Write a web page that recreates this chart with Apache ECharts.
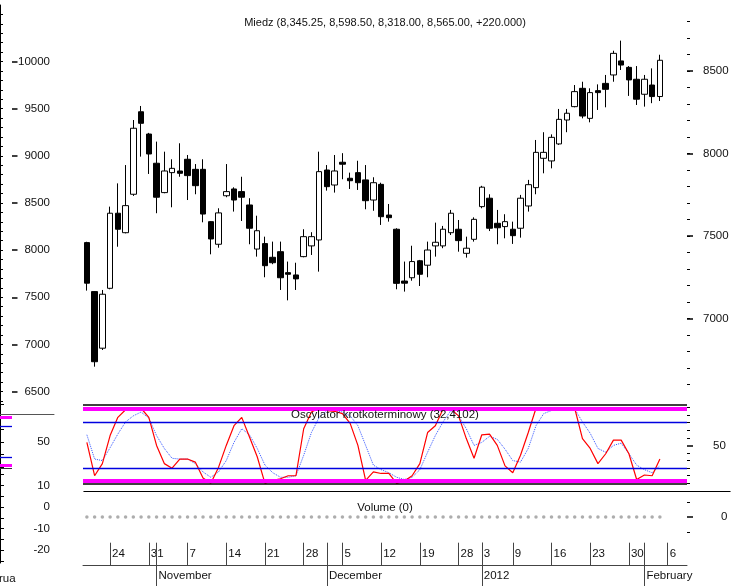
<!DOCTYPE html>
<html>
<head>
    <meta charset="utf-8">
    <title>Miedz</title>
    <script src="https://cdn.jsdelivr.net/npm/echarts@6/dist/echarts.min.js"></script>
</head>
<body style="margin:0">
<div id="main" style="width:740px;height:586px;"></div>
<script type="text/javascript">
    // trading days (last three are empty slots at the right edge)
    var dates = [
        '2011-10-19', '2011-10-20', '2011-10-21', '2011-10-24', '2011-10-25', '2011-10-26', '2011-10-27', '2011-10-28', '2011-10-31',
        '2011-11-01', '2011-11-02', '2011-11-03', '2011-11-04', '2011-11-07', '2011-11-08', '2011-11-09', '2011-11-10', '2011-11-11',
        '2011-11-14', '2011-11-15', '2011-11-16', '2011-11-17', '2011-11-18', '2011-11-21', '2011-11-22', '2011-11-23', '2011-11-24',
        '2011-11-25', '2011-11-28', '2011-11-29', '2011-11-30',
        '2011-12-01', '2011-12-02', '2011-12-05', '2011-12-06', '2011-12-07', '2011-12-08', '2011-12-09', '2011-12-12', '2011-12-13',
        '2011-12-14', '2011-12-15', '2011-12-16', '2011-12-19', '2011-12-20', '2011-12-21', '2011-12-22', '2011-12-23', '2011-12-28',
        '2011-12-29', '2011-12-30',
        '2012-01-03', '2012-01-04', '2012-01-05', '2012-01-06', '2012-01-09', '2012-01-10', '2012-01-11', '2012-01-12', '2012-01-13',
        '2012-01-16', '2012-01-17', '2012-01-18', '2012-01-19', '2012-01-20', '2012-01-23', '2012-01-24', '2012-01-25', '2012-01-26',
        '2012-01-27', '2012-01-30', '2012-01-31',
        '2012-02-01', '2012-02-02', '2012-02-03', '2012-02-06', '2012-02-07', '2012-02-08'
    ];

    var open = [7460, 7163, 6820, 7183, 7638, 7520, 7753, 8253, 8118, 7941, 7763, 7884, 7894, 7965, 7904, 7904, 7587, 7450, 7744,
        7785, 7769, 7688, 7421, 7454, 7371, 7405, 7278, 7264, 7375, 7440, 7476, 7900, 7809, 7947, 7850, 7884, 7840, 7718, 7813,
        7627, 7541, 7227, 7247, 7350, 7323, 7440, 7440, 7520, 7541, 7395, 7480, 7678, 7729, 7577, 7557, 7541, 7547, 7682, 7793,
        7971, 7955, 8058, 8203, 8284, 8395, 8213, 8381, 8425, 8476, 8561, 8522, 8450, 8359, 8415, 8345.25];
    var high = [7465, 7165, 7173, 7678, 7819, 7930, 8203, 8288, 8125, 8072, 8011, 7965, 8062, 7991, 7936, 7965, 7590, 7668, 7936,
        7795, 7859, 7729, 7623, 7496, 7466, 7466, 7345, 7338, 7541, 7523, 8011, 7930, 7991, 8002, 7884, 7956, 7930, 7856, 7823,
        7694, 7547, 7345, 7441, 7355, 7466, 7581, 7561, 7658, 7597, 7496, 7613, 7804, 7753, 7658, 7632, 7587, 7749, 7840, 8082,
        8129, 8116, 8270, 8270, 8415, 8435, 8395, 8419, 8476, 8623, 8684, 8530, 8530, 8476, 8516, 8598.5];
    var low = [7169, 6708, 6809, 7177, 7435, 7516, 7743, 7981, 7876, 7638, 7759, 7674, 7859, 7718, 7753, 7583, 7389, 7429, 7735,
        7648, 7591, 7450, 7375, 7250, 7329, 7173, 7110, 7173, 7371, 7385, 7284, 7775, 7763, 7844, 7785, 7779, 7662, 7653, 7567,
        7587, 7177, 7163, 7229, 7197, 7250, 7375, 7426, 7506, 7405, 7369, 7466, 7668, 7530, 7450, 7486, 7452, 7490, 7648, 7753,
        7880, 7910, 8052, 8129, 8280, 8213, 8189, 8264, 8280, 8435, 8506, 8349, 8294, 8284, 8305, 8318];
    var close = [7214, 6738, 7147, 7638, 7541, 7684, 8153, 8183, 7997, 7735, 7894, 7910, 7880, 7866, 7805, 7633, 7482, 7640, 7769,
        7718, 7735, 7547, 7532, 7320, 7338, 7247, 7268, 7240, 7496, 7496, 7890, 7799, 7894, 7935, 7835, 7823, 7714, 7823, 7617,
        7611, 7213, 7214, 7345, 7268, 7415, 7462, 7541, 7638, 7472, 7426, 7601, 7796, 7547, 7550, 7587, 7502, 7729, 7811, 8007,
        8007, 8098, 8207, 8244, 8375, 8227, 8369, 8369, 8389, 8607, 8536, 8446, 8329, 8450, 8345, 8565];

    // oscylator: %K (red) and its signal (blue dots)
    var oscK = [54, 10, 26, 63, 87, 97, 98, 99, 87, 50, 26, 20, 32, 32, 28, 7, 0, 21, 50, 76, 87, 61, 35, 0, 4, 6, 10, 10, 72,
        94, 99, 96, 95, 92, 79, 50, 4, 15, 13, 13, 0, 3, 10, 26, 67, 76, 98, 98, 89, 59, 33, 64, 65, 50, 23, 14, 37, 67, 99, 100,
        100, 100, 100, 99, 59, 46, 26, 39, 57, 57, 39, 5, 11, 10, 32];
    var oscD = [64, 32, 30, 47, 65, 81, 89, 94, 86, 63, 46, 33, 32, 32, 26, 15, 8, 15, 30, 54, 72, 64, 46, 24, 14, 8, 8, 10, 37,
        67, 87, 96, 96, 94, 89, 76, 50, 24, 18, 14, 8, 5, 8, 18, 41, 63, 81, 96, 89, 72, 50, 54, 62, 58, 45, 30, 28, 46, 76, 92,
        96, 98, 98, 98, 81, 66, 46, 41, 50, 53, 39, 24, 18, 14, 23];
    var oscLevels = [80, 20];
    var oscBands = [98, 4];

    var volume = [0, 0, 0, 0, 0, 0, 0, 0, 0, 0, 0, 0, 0, 0, 0, 0, 0, 0, 0, 0, 0, 0, 0, 0, 0, 0, 0, 0, 0, 0, 0, 0, 0, 0, 0, 0, 0,
        0, 0, 0, 0, 0, 0, 0, 0, 0, 0, 0, 0, 0, 0, 0, 0, 0, 0, 0, 0, 0, 0, 0, 0, 0, 0, 0, 0, 0, 0, 0, 0, 0, 0, 0, 0, 0, 0];

    var weekStarts = ['2011-10-24', '2011-10-31', '2011-11-07', '2011-11-14', '2011-11-21', '2011-11-28', '2011-12-05',
        '2011-12-12', '2011-12-19', '2011-12-28', '2012-01-03', '2012-01-09', '2012-01-16', '2012-01-23', '2012-01-30', '2012-02-06'];
    var monthStarts = ['2011-11-01', '2011-12-01', '2012-01-03', '2012-02-01'];
    var monthNames = ['November', 'December', '2012', 'February'];

    var leftTicks = [];   // the odd left-hand scale, every 100
    for (var v = 6400; v <= 10500; v += 100) leftTicks.push(v);
    var rightTicks = [];
    for (var w = 6600; w <= 8800; w += 100) rightTicks.push(w);

    var FONT = "'Liberation Sans', Arial, sans-serif";

    function fmt(n) {
        return n.toFixed(2).replace(/\B(?=(\d{3})+(?!\d))/g, ',');
    }
    var last = open.length - 1;
    var change = close[last] - close[last - 1];
    var titleText = 'Miedz (' + fmt(open[last]) + ', ' + fmt(high[last]) + ', ' + fmt(low[last]) + ', ' +
        fmt(close[last]) + ', +' + change.toFixed(3) + ')';

    var candles = open.map(function (o, i) {
        return [o, close[i], low[i], high[i]];
    });

    var tickStyle = {color: '#000', width: 1};
    var lbl = {fontFamily: FONT, fontSize: 11.5, color: '#111', formatter: function (val) { return String(val); }};
    var txt = {fontFamily: FONT, fontSize: 11.5, fontWeight: 'normal', color: '#111'};
    var sepLine = {color: '#444', width: 1, type: 'solid'};

    function hiddenX(gridIndex) {
        return {type: 'value', gridIndex: gridIndex, min: 0, max: 1, show: false};
    }
    function hiddenY(gridIndex) {
        return {type: 'value', gridIndex: gridIndex, min: 0, max: 1, show: false};
    }
    function hiddenCat(gridIndex) {
        return {type: 'category', gridIndex: gridIndex, data: dates, show: false, boundaryGap: true};
    }
    function vLines(list) {
        return list.map(function (d) {
            return {xAxis: dates.indexOf(d)};
        });
    }

    var myChart = echarts.init(document.getElementById('main'));

    var option = {
        animation: false,
        backgroundColor: '#fff',
        title: [
            {text: titleText, left: 385, top: 17, textAlign: 'center', padding: 0,
                textStyle: Object.assign({}, txt, {fontSize: 11})},
            {text: 'Oscylator krotkoterminowy (32,4102)', left: 385, top: 409, textAlign: 'center', padding: 0,
                textStyle: txt},
            {text: 'Volume (0)', left: 385, top: 502, textAlign: 'center', padding: 0, textStyle: txt},
            {text: 'rua', left: -1, top: 573, padding: 0, textStyle: txt}
        ],
        grid: [
            {left: 83, top: 5, width: 604, height: 396},          // 0 price
            {left: 83, top: 405, width: 604, height: 78.7},       // 1 oscillator
            {left: 83, top: 491.7, width: 604, height: 51},       // 2 volume
            {left: 84, top: 401, right: 10, height: 90.7},        // 3 frame lines
            {left: 0, top: 5, width: 12, height: 396},            // 4 left price scale
            {left: 0, top: 401, width: 12, height: 69},           // 5 left mini oscillator
            {left: 0, top: 470, width: 12, height: 93},           // 6 left volume scale
            {left: 83, top: 542.7, width: 604, height: 22.3},     // 7 day row
            {left: 83, top: 565, width: 604, height: 21},         // 8 month row
            {left: 0, top: 413.3, width: 54, height: 1}           // 9 short separator on the left
        ],
        xAxis: [
            hiddenCat(0),
            hiddenCat(1),
            hiddenCat(2),
            {type: 'value', gridIndex: 3, min: 0, max: 1, position: 'top',
                axisLine: {show: true, lineStyle: {color: '#999', width: 1}},
                axisTick: {show: false}, axisLabel: {show: false}, splitLine: {show: false}},
            {type: 'value', gridIndex: 3, min: 0, max: 1, position: 'bottom',
                axisLine: {show: true, lineStyle: {color: '#000', width: 1.2}},
                axisTick: {show: false}, axisLabel: {show: false}, splitLine: {show: false}},
            hiddenX(4),
            hiddenX(5),
            hiddenX(6),
            {   // 8 day numbers
                type: 'category', gridIndex: 7, data: dates, boundaryGap: true, position: 'top',
                axisLine: {show: true, lineStyle: {color: '#444', width: 1}},
                axisTick: {show: false}, splitLine: {show: false},
                axisLabel: {
                    show: true, inside: true, align: 'left', verticalAlign: 'top', margin: 5, padding: [0, 0, 0, 2],
                    fontFamily: FONT, fontSize: 11.5, color: '#111',
                    interval: function (i, val) { return weekStarts.indexOf(val) >= 0; },
                    formatter: function (val) { return String(parseInt(val.slice(8), 10)); }
                }
            },
            {   // 9 month names
                type: 'category', gridIndex: 8, data: dates, boundaryGap: true, position: 'top',
                axisLine: {show: true, lineStyle: {color: '#444', width: 1}},
                axisTick: {show: false}, splitLine: {show: false},
                axisLabel: {
                    show: true, inside: true, align: 'left', verticalAlign: 'top', margin: 5, padding: [0, 0, 0, 2],
                    fontFamily: FONT, fontSize: 11.5, color: '#111',
                    interval: function (i, val) { return monthStarts.indexOf(val) >= 0; },
                    formatter: function (val) {
                        var k = monthStarts.indexOf(val);
                        return k >= 0 ? monthNames[k] : '';
                    }
                }
            },
            {type: 'value', gridIndex: 9, min: 0, max: 1, position: 'top',
                axisLine: {show: true, lineStyle: {color: '#555', width: 1}},
                axisTick: {show: false}, axisLabel: {show: false}, splitLine: {show: false}}
        ],
        yAxis: [
            {   // 0 price, right, minor ticks + labels
                type: 'value', gridIndex: 0, position: 'right', min: 6500, max: 8900,
                axisLine: {show: false}, splitLine: {show: false},
                axisTick: {show: true, length: 3, lineStyle: tickStyle, customValues: rightTicks},
                axisLabel: Object.assign({margin: 16, customValues: [7000, 7500, 8000, 8500]}, lbl)
            },
            {   // 1 price, right, major ticks
                type: 'value', gridIndex: 0, position: 'right', min: 6500, max: 8900,
                axisLine: {show: false}, splitLine: {show: false},
                axisTick: {show: true, length: 6, lineStyle: {color: '#000', width: 1.5}, customValues: [7000, 7500, 8000, 8500]},
                axisLabel: {show: false}
            },
            {   // 2 oscillator right, minor
                type: 'value', gridIndex: 1, position: 'right', min: -0.5, max: 103.3,
                axisLine: {show: false}, splitLine: {show: false},
                axisTick: {show: true, length: 3, lineStyle: tickStyle,
                    customValues: [0, 10, 20, 30, 40, 60, 70, 80, 90, 100]},
                axisLabel: {show: false}
            },
            {   // 3 oscillator right, major
                type: 'value', gridIndex: 1, position: 'right', min: -0.5, max: 103.3,
                axisLine: {show: false}, splitLine: {show: false},
                axisTick: {show: true, length: 6, lineStyle: {color: '#000', width: 1.5}, customValues: [50]},
                axisLabel: Object.assign({margin: 26, customValues: [50]}, lbl)
            },
            {   // 4 volume right, minor
                type: 'value', gridIndex: 2, position: 'right', min: -1.71, max: 1.69,
                axisLine: {show: false}, splitLine: {show: false},
                axisTick: {show: true, length: 3, lineStyle: tickStyle, customValues: [-1, 1]},
                axisLabel: {show: false}
            },
            {   // 5 volume right, major
                type: 'value', gridIndex: 2, position: 'right', min: -1.71, max: 1.69,
                axisLine: {show: false}, splitLine: {show: false},
                axisTick: {show: true, length: 6, lineStyle: {color: '#000', width: 1.5}, customValues: [0]},
                axisLabel: Object.assign({margin: 34, customValues: [0]}, lbl)
            },
            hiddenY(3),
            {   // 7 left price scale, minor ticks + line
                type: 'value', gridIndex: 4, position: 'right', min: 6400, max: 10600,
                axisLine: {show: true, lineStyle: {color: '#000', width: 1}}, splitLine: {show: false},
                axisTick: {show: true, length: 3, lineStyle: tickStyle, customValues: leftTicks},
                axisLabel: {show: false}
            },
            {   // 8 left price scale, major ticks + labels
                type: 'value', gridIndex: 4, position: 'right', min: 6400, max: 10600,
                axisLine: {show: false}, splitLine: {show: false},
                axisTick: {show: true, length: 5.5, lineStyle: {color: '#000', width: 1.5},
                    customValues: [6500, 7000, 7500, 8000, 8500, 9000, 9500, 10000]},
                axisLabel: Object.assign({align: 'right', margin: 38,
                    customValues: [6500, 7000, 7500, 8000, 8500, 9000, 9500, 10000]}, lbl)
            },
            {   // 9 left mini oscillator scale
                type: 'value', gridIndex: 5, position: 'right', min: -5.7, max: 130.9,
                axisLine: {show: true, lineStyle: {color: '#000', width: 1}}, splitLine: {show: false},
                axisTick: {show: true, length: 4, lineStyle: tickStyle, customValues: [0, 25, 50, 75, 100, 125]},
                axisLabel: Object.assign({align: 'right', margin: 38, customValues: [50]}, lbl)
            },
            {   // 10 left volume scale
                type: 'value', gridIndex: 6, position: 'right', min: -26, max: 17.2,
                axisLine: {show: true, lineStyle: {color: '#000', width: 1}}, splitLine: {show: false},
                axisTick: {show: true, length: 4, lineStyle: tickStyle,
                    customValues: [-25, -20, -15, -10, -5, 0, 5, 10, 15]},
                axisLabel: Object.assign({align: 'right', margin: 38, customValues: [-20, -10, 0, 10]}, lbl)
            },
            hiddenY(7),
            hiddenY(8),
            hiddenY(9)
        ],
        series: [
            {
                type: 'candlestick', xAxisIndex: 0, yAxisIndex: 0, data: candles, barWidth: 6,
                itemStyle: {color: '#fff', color0: '#000', borderColor: '#000', borderColor0: '#000', borderWidth: 1}
            },
            {
                type: 'line', xAxisIndex: 1, yAxisIndex: 2, data: [], silent: true, z: 1,
                markLine: {
                    symbol: 'none', silent: true, label: {show: false},
                    data: [
                        {yAxis: 103.3, lineStyle: {color: '#000', width: 1.5, type: 'solid'}},
                        {yAxis: -0.4, lineStyle: {color: '#000', width: 1.5, type: 'solid'}},
                        {yAxis: oscBands[0], lineStyle: {color: '#ff00ff', width: 4, type: 'solid'}},
                        {yAxis: oscBands[1], lineStyle: {color: '#ff00ff', width: 4, type: 'solid'}},
                        {yAxis: oscLevels[0], lineStyle: {color: '#0000e0', width: 1.3, type: 'solid'}},
                        {yAxis: oscLevels[1], lineStyle: {color: '#0000e0', width: 1.3, type: 'solid'}}
                    ]
                }
            },
            {
                type: 'line', xAxisIndex: 1, yAxisIndex: 2, data: oscD, symbol: 'none', z: 3,
                lineStyle: {color: '#3355ff', width: 1, type: 'dotted'}
            },
            {
                type: 'line', xAxisIndex: 1, yAxisIndex: 2, data: oscK, symbol: 'none', z: 4,
                lineStyle: {color: '#ff0000', width: 1.2}
            },
            {
                type: 'scatter', xAxisIndex: 2, yAxisIndex: 4, data: volume, symbol: 'circle', symbolSize: 3.5,
                itemStyle: {color: '#999'}, silent: true
            },
            {
                type: 'line', xAxisIndex: 6, yAxisIndex: 9, data: [], silent: true,
                markLine: {
                    symbol: 'none', silent: true, label: {show: false},
                    data: [
                        {yAxis: -2.3, lineStyle: {color: '#333', width: 1, type: 'solid'}},
                        {yAxis: 97.8, lineStyle: {color: '#ff00ff', width: 3, type: 'solid'}},
                        {yAxis: 2.8, lineStyle: {color: '#ff00ff', width: 3, type: 'solid'}},
                        {yAxis: oscLevels[0], lineStyle: {color: '#0000e0', width: 1.3, type: 'solid'}},
                        {yAxis: oscLevels[1], lineStyle: {color: '#0000e0', width: 1.3, type: 'solid'}}
                    ]
                }
            },
            {   // week separators (month starts cross both rows)
                type: 'line', xAxisIndex: 8, yAxisIndex: 11, data: [], silent: true,
                markLine: {symbol: 'none', silent: true, label: {show: false}, lineStyle: sepLine,
                    data: vLines(weekStarts.concat(monthStarts))}
            },
            {
                type: 'line', xAxisIndex: 9, yAxisIndex: 12, data: [], silent: true,
                markLine: {symbol: 'none', silent: true, label: {show: false}, lineStyle: sepLine,
                    data: vLines(monthStarts)}
            }
        ]
    };
    myChart.setOption(option);
</script>
</body>
</html>
